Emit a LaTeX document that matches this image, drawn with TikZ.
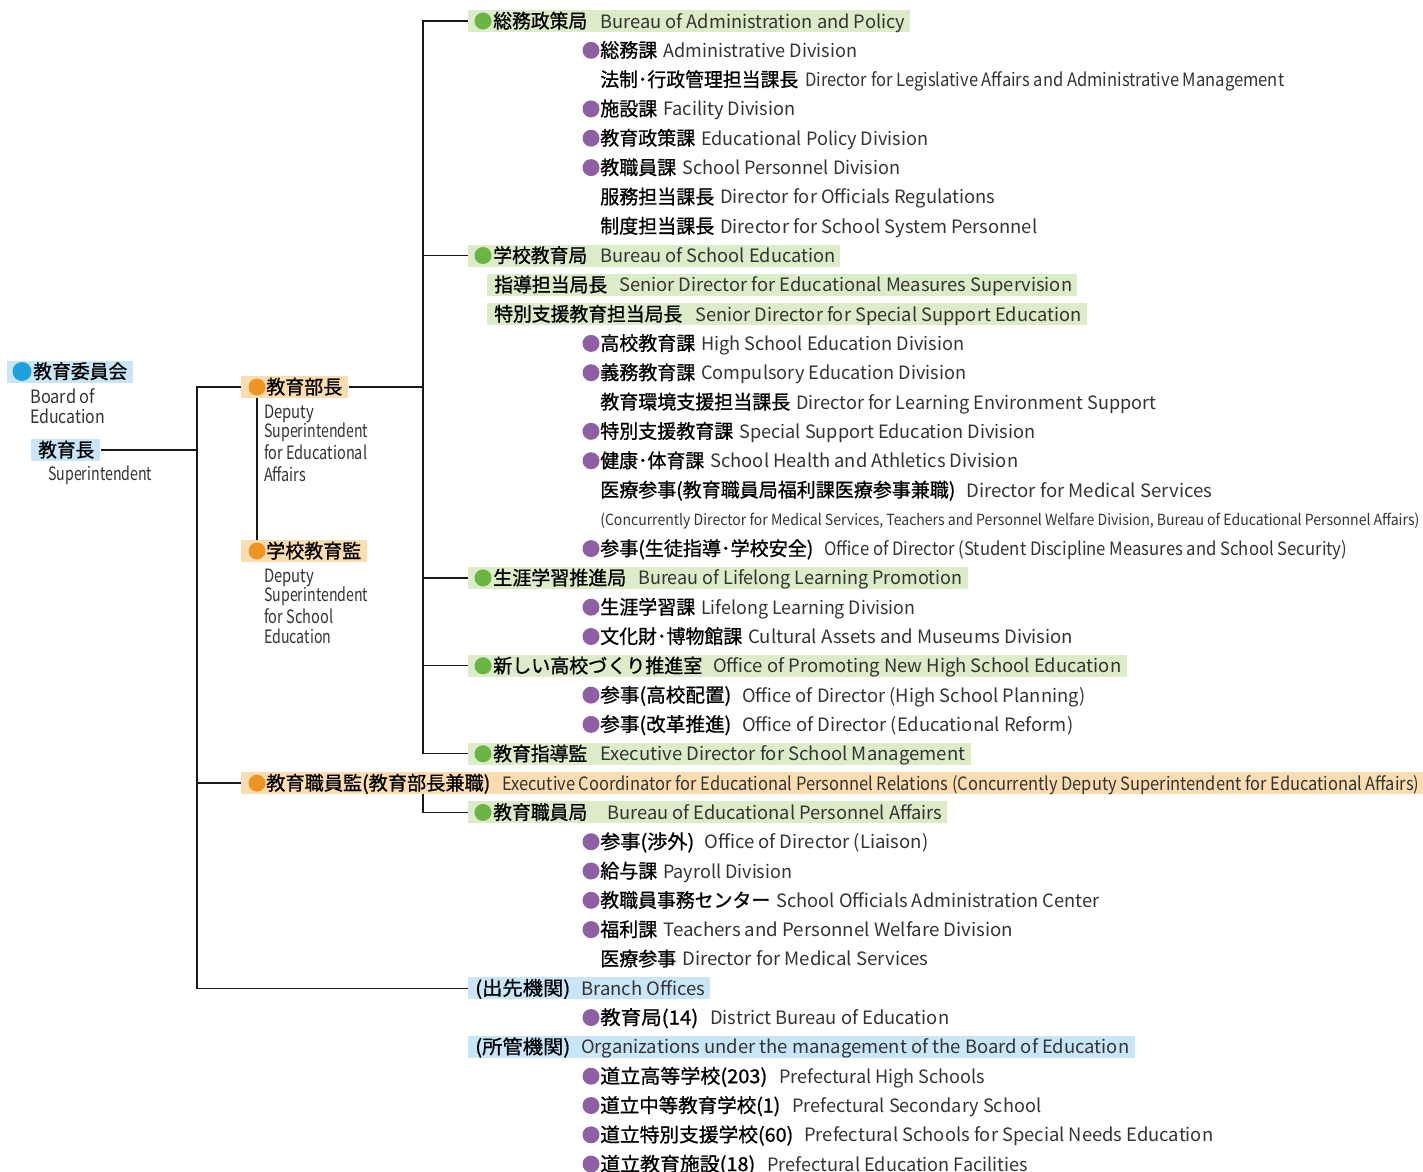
\documentclass[tikz,border=0pt]{standalone}
\usepackage{fontspec}
\usepackage{graphicx}
\newfontfamily\jpf{Noto Sans CJK JP}
\newfontfamily\jpm{Noto Sans CJK JP}[FakeBold=0.9]
\newdimen\px \px=0.75pt
\definecolor{bbox}{HTML}{C9E6F8}
\definecolor{bdot}{HTML}{1FA2DC}
\definecolor{obox}{HTML}{FCDDB2}
\definecolor{odot}{HTML}{EE9422}
\definecolor{gbox}{HTML}{DCEBC8}
\definecolor{gdot}{HTML}{6CB444}
\definecolor{pdot}{HTML}{8E5FA2}
\definecolor{engray}{HTML}{333333}
\tikzset{
  jpst/.style={anchor=base west, inner sep=0pt, font=\jpm\fontsize{14.5pt}{14.5pt}\selectfont, text=black},
  enst/.style={anchor=base west, inner sep=0pt, font=\jpf\fontsize{13.8pt}{13.8pt}\selectfont, text=engray},
  ensmall/.style={anchor=base west, inner sep=0pt, font=\jpf\fontsize{11.5pt}{11.5pt}\selectfont, text=engray},
  dotst/.style={circle, inner sep=0pt, minimum size=12.75pt, draw=none},
  bx/.style={anchor=west, inner sep=0pt, minimum height=16.5pt, draw=none},
  conn/.style={draw=black!90, line width=0.95pt},
}
\newcommand\JP[5]{\node[jpst] (#1) at (#2,#4+7) {\resizebox{\dimexpr #3\px-#2\px\relax}{\height}{#5}};}
\newcommand\EN[5]{\node[enst] (#1) at (#2,#4+7) {\resizebox{\dimexpr #3\px-#2\px\relax}{\height}{#5}};}
\newcommand\ENs[5]{\node[ensmall] (#1) at (#2,#4+6) {\resizebox{\dimexpr #3\px-#2\px\relax}{\height}{#5}};}
\newcommand\DT[4]{\node[dotst, fill=#4] (#1) at (#2,#3) {};}
\newcommand\BX[5]{\node[bx, fill=#5, minimum width={(#3-#2)*0.75pt}] (#1) at (#2,#4) {};}
\begin{document}
\begin{tikzpicture}[x=0.75pt,y=-0.75pt]
\useasboundingbox (0,0) rectangle (1423,1171);
% ---------- left column ----------
\BX{iinkai}{7}{133}{371.5}{bbox}
\node[dotst, minimum size=14.25pt, fill=bdot] (iinkaid) at (22,371.5) {};
\JP{iinkaij}{33}{127}{371.5}{教育委員会}
\EN{board1}{30}{95}{396}{Board of}
\EN{board2}{30}{105}{416.5}{Education}
\BX{kyoikucho}{31}{100}{450}{bbox}
\JP{kyoikuchoj}{38}{94}{450}{教育長}
\EN{supt}{48}{152}{473.5}{Superintendent}
\BX{bucho}{241}{348}{387}{obox}
\DT{budot}{257}{387}{odot}
\JP{buchoj}{266}{342}{387}{教育部長}
\EN{dpa1}{264}{314}{411.5}{Deputy}
\EN{dpa2}{264}{368}{430.5}{Superintendent}
\EN{dpa3}{264}{367}{452}{for Educational}
\EN{dpa4}{264}{306}{474.5}{Affairs}
\BX{kan}{241}{367}{551}{obox}
\DT{kandot}{257}{551}{odot}
\JP{kanj}{266}{361}{551}{学校教育監}
\EN{dps1}{264}{314}{575}{Deputy}
\EN{dps2}{264}{368}{594}{Superintendent}
\EN{dps3}{264}{333}{616.5}{for School}
\EN{dps4}{264}{331}{636}{Education}
% ---------- right column ----------
\BX{r1}{468}{910}{21}{gbox}\DT{r1d}{483}{21}{gdot}
\JP{r1j}{493}{587}{21}{総務政策局}\EN{r1e}{600}{905}{21}{Bureau of Administration and Policy}
\DT{r2d}{591}{50.3}{pdot}\JP{r2j}{600}{657}{50.3}{総務課}\EN{r2e}{663}{857}{50.3}{Administrative Division}
\JP{r3j}{600}{798}{79.6}{法制･行政管理担当課長}\EN{r3e}{805}{1284}{79.6}{Director for Legislative Affairs and Administrative Management}
\DT{r4d}{591}{108.9}{pdot}\JP{r4j}{600}{657}{108.9}{施設課}\EN{r4e}{663}{795}{108.9}{Facility Division}
\DT{r5d}{591}{138.2}{pdot}\JP{r5j}{600}{695}{138.2}{教育政策課}\EN{r5e}{701}{928}{138.2}{Educational Policy Division}
\DT{r6d}{591}{167.6}{pdot}\JP{r6j}{600}{676}{167.6}{教職員課}\EN{r6e}{682}{900}{167.6}{School Personnel Division}
\JP{r7j}{600}{714}{196.9}{服務担当課長}\EN{r7e}{720}{995}{196.9}{Director for Officials Regulations}
\JP{r8j}{600}{714}{226.2}{制度担当課長}\EN{r8e}{720}{1037}{226.2}{Director for School System Personnel}
\BX{r9}{468}{840}{255.5}{gbox}\DT{r9d}{483}{255.5}{gdot}
\JP{r9j}{493}{587}{255.5}{学校教育局}\EN{r9e}{600}{835}{255.5}{Bureau of School Education}
\BX{r10}{487}{1077}{284.8}{gbox}
\JP{r10j}{494}{607}{284.8}{指導担当局長}\EN{r10e}{619}{1072}{284.8}{Senior Director for Educational Measures Supervision}
\BX{r11}{487}{1087}{314.1}{gbox}
\JP{r11j}{494}{682}{314.1}{特別支援教育担当局長}\EN{r11e}{695}{1081}{314.1}{Senior Director for Special Support Education}
\DT{r12d}{591}{343.4}{pdot}\JP{r12j}{600}{695}{343.4}{高校教育課}\EN{r12e}{701}{964}{343.4}{High School Education Division}
\DT{r13d}{591}{372.7}{pdot}\JP{r13j}{600}{695}{372.7}{義務教育課}\EN{r13e}{701}{966}{372.7}{Compulsory Education Division}
\JP{r14j}{600}{790}{402}{教育環境支援担当課長}\EN{r14e}{796}{1156}{402}{Director for Learning Environment Support}
\DT{r15d}{591}{431.3}{pdot}\JP{r15j}{600}{733}{431.3}{特別支援教育課}\EN{r15e}{739}{1035}{431.3}{Special Support Education Division}
\DT{r16d}{591}{460.7}{pdot}\JP{r16j}{600}{704}{460.7}{健康･体育課}\EN{r16e}{710}{1018}{460.7}{School Health and Athletics Division}
\JP{r17j}{600}{955}{490}{医療参事(教育職員局福利課医療参事兼職)}\EN{r17e}{966}{1212}{490}{Director for Medical Services}
\ENs{r18e}{600}{1419}{519.3}{(Concurrently Director for Medical Services, Teachers and Personnel Welfare Division, Bureau of Educational Personnel Affairs)}
\DT{r19d}{591}{548.6}{pdot}\JP{r19j}{600}{813}{548.6}{参事(生徒指導･学校安全)}\EN{r19e}{824}{1347}{548.6}{Office of Director (Student Discipline Measures and School Security)}
\BX{r20}{468}{968}{577.9}{gbox}\DT{r20d}{483}{577.9}{gdot}
\JP{r20j}{493}{626}{577.9}{生涯学習推進局}\EN{r20e}{638}{962}{577.9}{Bureau of Lifelong Learning Promotion}
\DT{r21d}{591}{607.2}{pdot}\JP{r21j}{600}{695}{607.2}{生涯学習課}\EN{r21e}{701}{915}{607.2}{Lifelong Learning Division}
\DT{r22d}{591}{636.5}{pdot}\JP{r22j}{600}{742}{636.5}{文化財･博物館課}\EN{r22e}{748}{1073}{636.5}{Cultural Assets and Museums Division}
\BX{r23}{468}{1127}{665.8}{gbox}\DT{r23d}{483}{665.8}{gdot}
\JP{r23j}{493}{702}{665.8}{新しい高校づくり推進室}\EN{r23e}{713}{1121}{665.8}{Office of Promoting New High School Education}
\DT{r24d}{591}{695.1}{pdot}\JP{r24j}{600}{731}{695.1}{参事(高校配置)}\EN{r24e}{742}{1085}{695.1}{Office of Director (High School Planning)}
\DT{r25d}{591}{724.4}{pdot}\JP{r25j}{600}{731}{724.4}{参事(改革推進)}\EN{r25e}{742}{1073}{724.4}{Office of Director (Educational Reform)}
\BX{r26}{468}{971}{753.8}{gbox}\DT{r26d}{483}{753.8}{gdot}
\JP{r26j}{493}{587}{753.8}{教育指導監}\EN{r26e}{600}{965}{753.8}{Executive Director for School Management}
\BX{r27}{241}{1423}{783.1}{obox}\DT{r27d}{257}{783.1}{odot}
\JP{r27j}{266}{490}{783.1}{教育職員監(教育部長兼職)}\EN{r27e}{502}{1419}{783.1}{Executive Coordinator for Educational Personnel Relations (Concurrently Deputy Superintendent for Educational Affairs)}
\BX{r28}{468}{947}{812.4}{gbox}\DT{r28d}{483}{812.4}{gdot}
\JP{r28j}{493}{587}{812.4}{教育職員局}\EN{r28e}{607}{942}{812.4}{Bureau of Educational Personnel Affairs}
\DT{r29d}{591}{841.7}{pdot}\JP{r29j}{600}{694}{841.7}{参事(渉外)}\EN{r29e}{704}{928}{841.7}{Office of Director (Liaison)}
\DT{r30d}{591}{871}{pdot}\JP{r30j}{600}{657}{871}{給与課}\EN{r30e}{663}{792}{871}{Payroll Division}
\DT{r31d}{591}{900.3}{pdot}\JP{r31j}{600}{770}{900.3}{教職員事務センター}\EN{r31e}{776}{1099}{900.3}{School Officials Administration Center}
\DT{r32d}{591}{929.6}{pdot}\JP{r32j}{600}{657}{929.6}{福利課}\EN{r32e}{663}{1013}{929.6}{Teachers and Personnel Welfare Division}
\JP{r33j}{600}{676}{958.9}{医療参事}\EN{r33e}{682}{928}{958.9}{Director for Medical Services}
\BX{r34}{468}{710}{988.2}{bbox}
\JP{r34j}{475}{570}{988.2}{(出先機関)}\EN{r34e}{581}{705}{988.2}{Branch Offices}
\DT{r35d}{591}{1017.5}{pdot}\JP{r35j}{600}{698}{1017.5}{教育局(14)}\EN{r35e}{710}{949}{1017.5}{District Bureau of Education}
\BX{r36}{468}{1135}{1046.8}{bbox}
\JP{r36j}{475}{570}{1046.8}{(所管機関)}\EN{r36e}{581}{1129}{1046.8}{Organizations under the management of the Board of Education}
\DT{r37d}{591}{1076.2}{pdot}\JP{r37j}{600}{767}{1076.2}{道立高等学校(203)}\EN{r37e}{779}{985}{1076.2}{Prefectural High Schools}
\DT{r38d}{591}{1105.5}{pdot}\JP{r38j}{600}{780}{1105.5}{道立中等教育学校(1)}\EN{r38e}{792}{1041}{1105.5}{Prefectural Secondary School}
\DT{r39d}{591}{1134.8}{pdot}\JP{r39j}{600}{793}{1134.8}{道立特別支援学校(60)}\EN{r39e}{804}{1213}{1134.8}{Prefectural Schools for Special Needs Education}
\DT{r40d}{591}{1164.1}{pdot}\JP{r40j}{600}{755}{1164.1}{道立教育施設(18)}\EN{r40e}{767}{1028}{1164.1}{Prefectural Education Facilities}
% ---------- connectors ----------
\coordinate (spT) at (423,21);
\coordinate (spB) at (423,753.8);
\coordinate (lsT) at (197,387);
\coordinate (lsB) at (197,988.2);
\draw[conn] (r1.west) -- (spT) -- (spB) -- (r26.west);
\draw[conn] (r9.west) -- (r9.west -| spT);
\draw[conn] (r20.west) -- (r20.west -| spT);
\draw[conn] (r23.west) -- (r23.west -| spT);
\draw[conn] (bucho.east) -- (bucho.east -| spT);
\draw[conn] (kyoikucho.east) -- (kyoikucho.east -| lsT);
\draw[conn] (bucho.west) -- (lsT) -- (lsB) -- (r34.west);
\draw[conn] (r27.west) -- (r27.west -| lsT);
\draw[conn] (budot.center |- bucho.south) -- (kandot.center |- kan.north);
\draw[conn] (r27.south -| spT) |- (r28.west);
\end{tikzpicture}
\end{document}
